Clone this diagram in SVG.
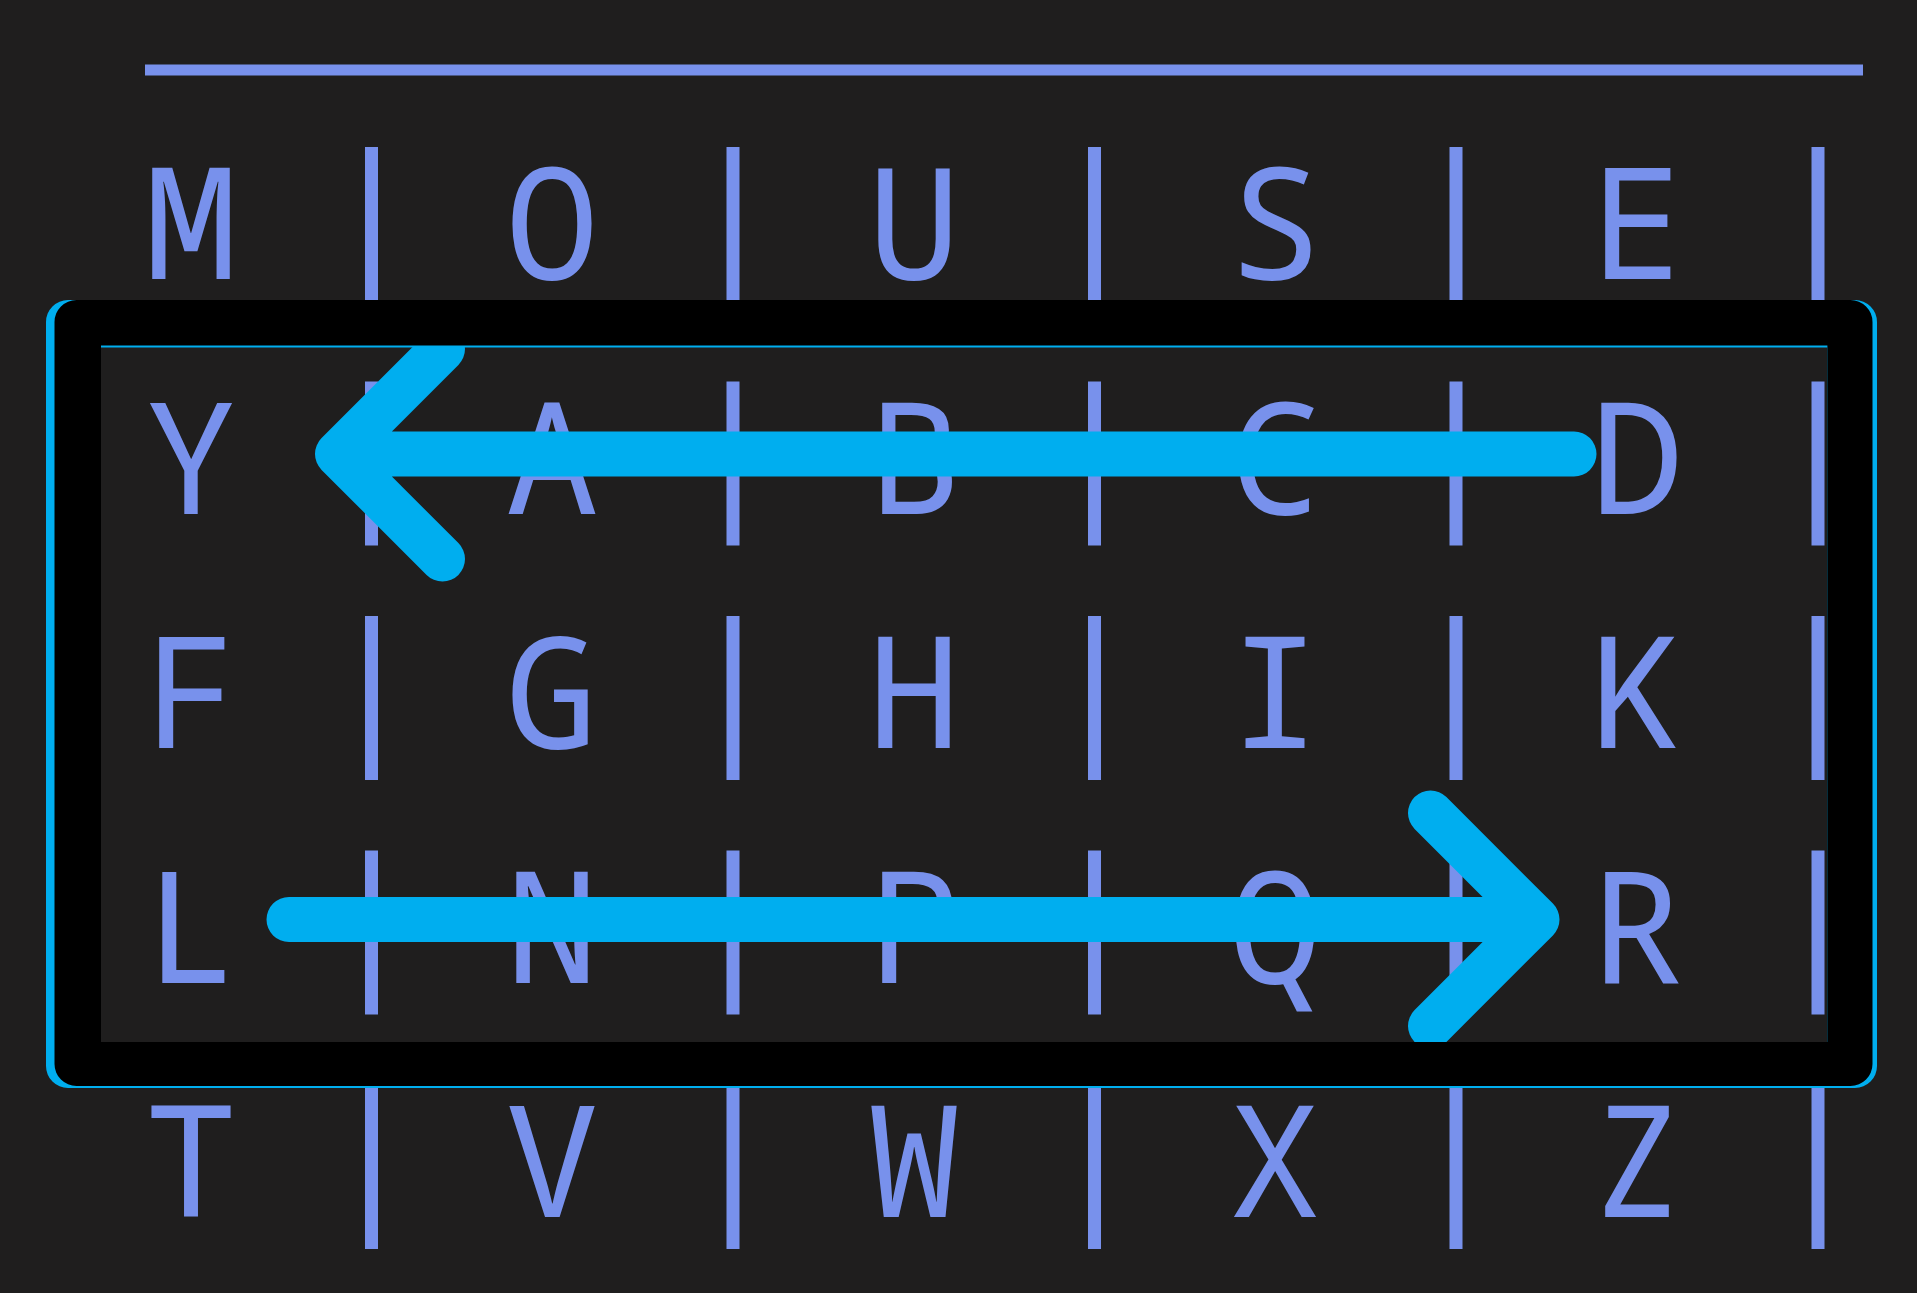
<svg xmlns="http://www.w3.org/2000/svg" width="1917" height="1293" viewBox="0 0 1917 1293">
  <style>
    .ch { font-family: "Noto Sans Mono", "Liberation Mono", monospace; font-size: 155px; fill: #7891ec; text-anchor: middle; }
    .bar { fill: #7891ec; }
    .arrow { fill: none; stroke: #00aeef; stroke-width: 45; stroke-linecap: round; stroke-linejoin: round; }
  </style>
  <rect x="0" y="0" width="1917" height="1293" fill="#1f1e1e"/>
  <rect id="header-rule" x="145" y="64.5" width="1718" height="11" fill="#7891ec"/>

  <g id="row1">
    <g id="cell-M"><text class="ch" x="191" y="279">M</text></g>
    <g id="cell-O"><text class="ch" x="552" y="279">O</text></g>
    <g id="cell-U"><text class="ch" x="914" y="279">U</text></g>
    <g id="cell-S"><text class="ch" x="1275" y="279">S</text></g>
    <g id="cell-E"><text class="ch" x="1637" y="279">E</text></g>
  </g>
  <g id="row2">
    <g id="cell-Y"><text class="ch" x="191" y="513.5">Y</text></g>
    <g id="cell-A"><text class="ch" x="552" y="513.5">A</text></g>
    <g id="cell-B"><text class="ch" x="914" y="513.5">B</text></g>
    <g id="cell-C"><text class="ch" x="1275" y="513.5">C</text></g>
    <g id="cell-D"><text class="ch" x="1637" y="513.5">D</text></g>
  </g>
  <g id="row3">
    <g id="cell-F"><text class="ch" x="191" y="748">F</text></g>
    <g id="cell-G"><text class="ch" x="552" y="748">G</text></g>
    <g id="cell-H"><text class="ch" x="914" y="748">H</text></g>
    <g id="cell-I"><text class="ch" x="1275" y="748">I</text></g>
    <g id="cell-K"><text class="ch" x="1637" y="748">K</text></g>
  </g>
  <g id="row4">
    <g id="cell-L"><text class="ch" x="191" y="982.5">L</text></g>
    <g id="cell-N"><text class="ch" x="552" y="982.5">N</text></g>
    <g id="cell-P"><text class="ch" x="914" y="982.5">P</text></g>
    <g id="cell-Q"><text class="ch" x="1275" y="982.5">Q</text></g>
    <g id="cell-R"><text class="ch" x="1637" y="982.5">R</text></g>
  </g>
  <g id="row5">
    <g id="cell-T"><text class="ch" x="191" y="1217">T</text></g>
    <g id="cell-V"><text class="ch" x="552" y="1217">V</text></g>
    <g id="cell-W"><text class="ch" x="914" y="1217">W</text></g>
    <g id="cell-X"><text class="ch" x="1275" y="1217">X</text></g>
    <g id="cell-Z"><text class="ch" x="1637" y="1217">Z</text></g>
  </g>

  <g id="separators">
    <rect class="bar" x="365" y="147" width="13" height="164"/>
    <rect class="bar" x="726.5" y="147" width="13" height="164"/>
    <rect class="bar" x="1088" y="147" width="13" height="164"/>
    <rect class="bar" x="1449.5" y="147" width="13" height="164"/>
    <rect class="bar" x="1811.5" y="147" width="13" height="164"/>

    <rect class="bar" x="365" y="381.5" width="13" height="164"/>
    <rect class="bar" x="726.5" y="381.5" width="13" height="164"/>
    <rect class="bar" x="1088" y="381.5" width="13" height="164"/>
    <rect class="bar" x="1449.5" y="381.5" width="13" height="164"/>
    <rect class="bar" x="1811.5" y="381.5" width="13" height="164"/>

    <rect class="bar" x="365" y="616" width="13" height="164"/>
    <rect class="bar" x="726.5" y="616" width="13" height="164"/>
    <rect class="bar" x="1088" y="616" width="13" height="164"/>
    <rect class="bar" x="1449.5" y="616" width="13" height="164"/>
    <rect class="bar" x="1811.5" y="616" width="13" height="164"/>

    <rect class="bar" x="365" y="850.5" width="13" height="164"/>
    <rect class="bar" x="726.5" y="850.5" width="13" height="164"/>
    <rect class="bar" x="1088" y="850.5" width="13" height="164"/>
    <rect class="bar" x="1449.5" y="850.5" width="13" height="164"/>
    <rect class="bar" x="1811.5" y="850.5" width="13" height="164"/>

    <rect class="bar" x="365" y="1085" width="13" height="164"/>
    <rect class="bar" x="726.5" y="1085" width="13" height="164"/>
    <rect class="bar" x="1088" y="1085" width="13" height="164"/>
    <rect class="bar" x="1449.5" y="1085" width="13" height="164"/>
    <rect class="bar" x="1811.5" y="1085" width="13" height="164"/>
  </g>

  <g id="connectors">
    <path class="arrow" d="M1574,454 H337.5 M442.5,349 L337.5,454 L442.5,559"/>
    <path class="arrow" d="M289,919.5 H1537 M1430.5,813 L1537,919.5 L1430.5,1026"/>
  </g>

  <g id="frame">
    <path fill="#00aeef" fill-rule="evenodd" d="M68,300 H1855 A22,22 0 0 1 1877,322 V1066 A22,22 0 0 1 1855,1088 H68 A22,22 0 0 1 46,1066 V322 A22,22 0 0 1 68,300 Z M101,347.5 H1827.4 V1042 H101 Z"/>
    <path fill="#000000" fill-rule="evenodd" d="M76.5,300 H1850.5 A22,22 0 0 1 1872.5,322 V1064 A22,22 0 0 1 1850.5,1086 H76.5 A22,22 0 0 1 54.5,1064 V322 A22,22 0 0 1 76.5,300 Z M101,345.5 H1827.4 V1042 H101 Z"/>
  </g>
</svg>
